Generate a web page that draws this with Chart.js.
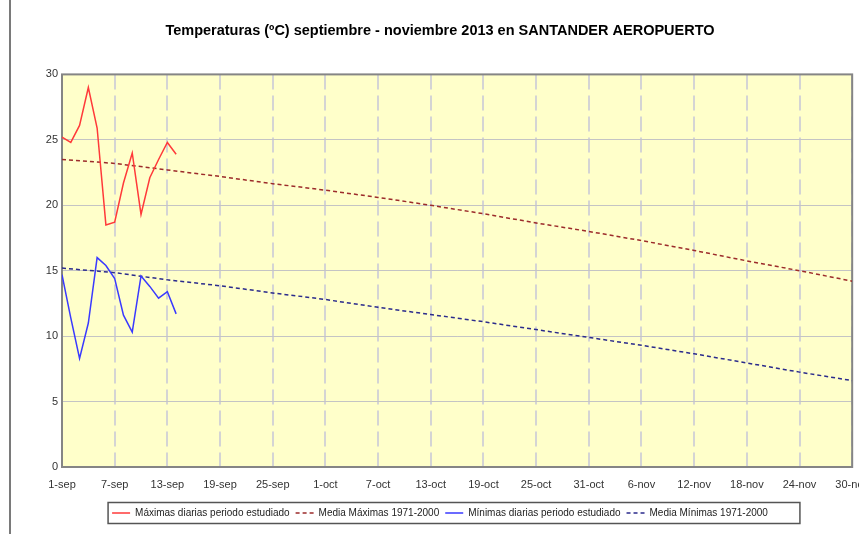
<!DOCTYPE html>
<html lang="es">
<head>
<meta charset="utf-8">
<title>Temperaturas Santander Aeropuerto</title>
<script src="https://cdn.jsdelivr.net/npm/chart.js@4.4.0/dist/chart.umd.min.js"></script>
<style>
  html, body { margin: 0; padding: 0; background: #fff; }
  #marco { width: 859px; height: 534px; overflow: hidden; position: relative; }
  canvas { display: block; }
</style>
</head>
<body>
<div id="marco"><canvas id="grafico" width="880" height="534"></canvas></div>
<script>
const fuente = "'Liberation Sans', Arial, sans-serif";

// etiquetas del eje x, una cada 6 dias (dia 0 = 1-sep)
const etiquetasFecha = ["1-sep", "7-sep", "13-sep", "19-sep", "25-sep", "1-oct", "7-oct", "13-oct",
  "19-oct", "25-oct", "31-oct", "6-nov", "12-nov", "18-nov", "24-nov", "30-nov"];

// periodo estudiado: 1-sep a 14-sep
const diasEstudiados = [0, 1, 2, 3, 4, 5, 6, 7, 8, 9, 10, 11, 12, 13];
const maximasDiarias = [25.2, 24.8, 26.1, 29.0, 25.9, 18.5, 18.7, 21.7, 24.0, 19.3, 22.1, 23.5, 24.8, 23.9];
const minimasDiarias = [14.7, 11.4, 8.3, 11.0, 16.0, 15.4, 14.4, 11.6, 10.3, 14.6, 13.8, 12.9, 13.4, 11.7];

// medias 1971-2000 leidas cada 6 dias
const diasMedia = [0, 6, 12, 18, 24, 30, 36, 42, 48, 54, 60, 66, 72, 78, 84, 90];
const mediaMaximas = [23.5, 23.2, 22.7, 22.2, 21.65, 21.15, 20.6, 20.0, 19.35, 18.65, 18.0, 17.3, 16.55, 15.75, 15.0, 14.2];
const mediaMinimas = [15.2, 14.85, 14.3, 13.85, 13.3, 12.8, 12.2, 11.65, 11.1, 10.5, 9.9, 9.3, 8.65, 7.95, 7.25, 6.6];

function puntos(dias, valores) {
  return dias.map((d, i) => ({ x: d, y: valores[i] }));
}

// fondo amarillo del area, marco del grafico y linea lateral
const fondoPlugin = {
  id: "fondo",
  beforeDraw(chart) {
    const { ctx, chartArea } = chart;
    ctx.save();
    ctx.fillStyle = "#ffffca";
    ctx.fillRect(chartArea.left, chartArea.top, chartArea.right - chartArea.left, chartArea.bottom - chartArea.top);
    ctx.fillStyle = "#7a7a7a";
    ctx.fillRect(9, 0, 2, chart.height);
    ctx.restore();
  },
  beforeDatasetsDraw(chart) {
    const { ctx, chartArea } = chart;
    ctx.save();
    ctx.strokeStyle = "#858585";
    ctx.lineWidth = 2;
    ctx.strokeRect(chartArea.left, chartArea.top, chartArea.right - chartArea.left, chartArea.bottom - chartArea.top);
    ctx.restore();
  },
};

// recuadro alrededor de la leyenda
const marcoLeyenda = {
  id: "marcoLeyenda",
  afterDraw(chart) {
    const cajas = chart.legend && chart.legend.legendHitBoxes;
    if (!cajas || !cajas.length) return;
    const izq = Math.min(...cajas.map((c) => c.left));
    const der = Math.max(...cajas.map((c) => c.left + c.width));
    const centro = cajas[0].top + cajas[0].height / 2;
    const ctx = chart.ctx;
    ctx.save();
    ctx.strokeStyle = "#555";
    ctx.lineWidth = 1.5;
    ctx.strokeRect(izq - 4, centro - 10.5, der - izq + 36, 21);
    ctx.restore();
  },
};

new Chart(document.getElementById("grafico"), {
  type: "line",
  data: {
    datasets: [
      {
        label: "Máximas diarias periodo estudiado",
        data: puntos(diasEstudiados, maximasDiarias),
        borderColor: "#ff3a3a",
        borderWidth: 1.5,
      },
      {
        label: "Media Máximas 1971-2000",
        data: puntos(diasMedia, mediaMaximas),
        borderColor: "#9c2b2b",
        borderWidth: 1.5,
        borderDash: [4, 3],
      },
      {
        label: "Mínimas diarias periodo estudiado",
        data: puntos(diasEstudiados, minimasDiarias),
        borderColor: "#3a3aff",
        borderWidth: 1.5,
      },
      {
        label: "Media Mínimas 1971-2000",
        data: puntos(diasMedia, mediaMinimas),
        borderColor: "#2b2b8c",
        borderWidth: 1.5,
        borderDash: [4, 3],
      },
    ],
  },
  options: {
    responsive: false,
    animation: false,
    elements: { point: { radius: 0 }, line: { tension: 0 } },
    layout: { padding: { left: 0, right: 0, top: 0, bottom: 6 } },
    plugins: {
      title: {
        display: true,
        text: "Temperaturas (ºC) septiembre - noviembre 2013 en SANTANDER AEROPUERTO",
        font: { family: fuente, size: 14.5, weight: "bold" },
        color: "#000",
        padding: { top: 22, bottom: 35 },
      },
      legend: {
        position: "bottom",
        labels: {
          usePointStyle: true,
          pointStyle: "line",
          pointStyleWidth: 18,
          boxWidth: 18,
          font: { family: fuente, size: 10 },
          color: "#222",
          padding: 6,
          generateLabels: (chart) =>
            Chart.defaults.plugins.legend.labels.generateLabels(chart).map((item) => {
              const ds = chart.data.datasets[item.datasetIndex];
              item.lineDash = ds.borderDash || [];
              item.lineWidth = 1.5;
              return item;
            }),
        },
      },
      tooltip: { enabled: false },
    },
    scales: {
      x: {
        type: "linear",
        min: 0,
        max: 90,
        ticks: {
          stepSize: 6,
          autoSkip: false,
          maxRotation: 0,
          padding: 11,
          color: "#333",
          font: { family: fuente, size: 11 },
          callback: (v) => etiquetasFecha[v / 6],
        },
        grid: { color: "#d4d4d4", lineWidth: 2, drawTicks: false },
        border: { display: false, dash: [15, 6] },
        afterFit: (s) => { s.height = 35; },
      },
      y: {
        min: 0,
        max: 30,
        ticks: {
          stepSize: 5,
          padding: 4,
          color: "#333",
          font: { family: fuente, size: 11 },
        },
        grid: { color: "#c4c4c4", lineWidth: 1, drawTicks: false },
        border: { display: false },
        afterFit: (s) => { s.width = 62; },
      },
      // margen derecho vacio: el grafico original sigue mas alla del borde
      margen: {
        type: "linear",
        position: "right",
        ticks: { display: false },
        grid: { display: false, drawTicks: false },
        border: { display: false },
        afterFit: (s) => { s.width = 22; },
      },
    },
  },
  plugins: [fondoPlugin, marcoLeyenda],
});
</script>
</body>
</html>
